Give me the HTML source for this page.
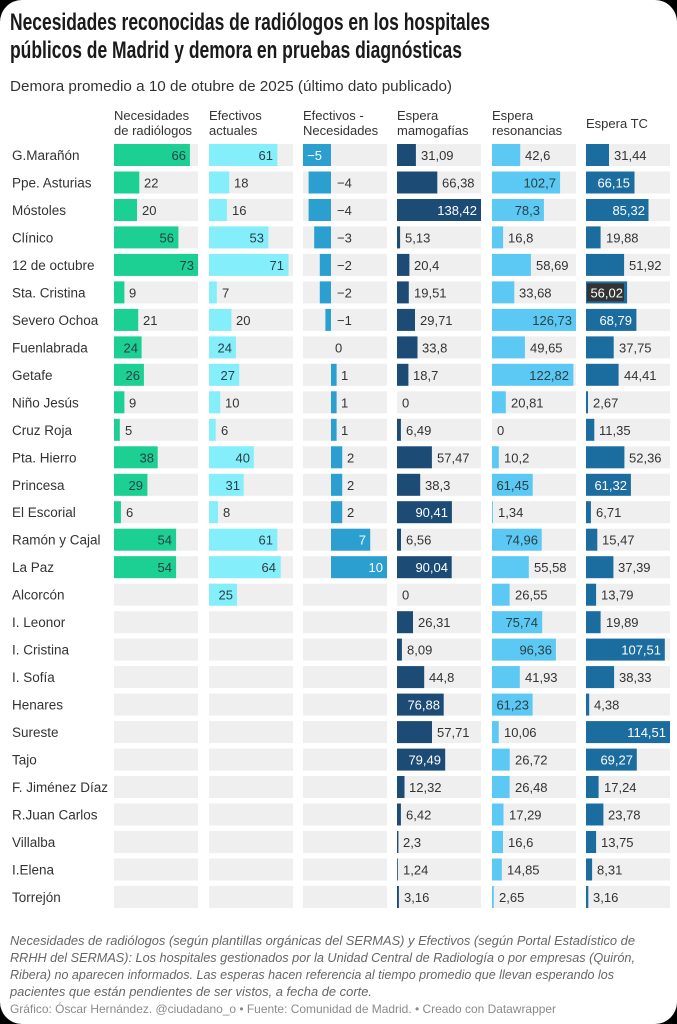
<!DOCTYPE html>
<html><head><meta charset="utf-8"><style>
html,body{margin:0;padding:0;background:#000;}
svg{display:block;font-family:"Liberation Sans",sans-serif;}
.l{font-size:13.5px;fill:#333;}
.v{font-size:13px;fill:#333;}
.w{font-size:13px;fill:#fff;text-anchor:end;}
.d{font-size:13px;fill:#2b3f45;text-anchor:end;}
.h{font-size:13px;fill:#333;}
.c1{fill:#1ccf93}.c2{fill:#84eefa}.c3{fill:#2a9fd0}.c4{fill:#1c4b76}.c5{fill:#5bc9f3}.c6{fill:#1c6d9f}
</style></head><body>
<svg width="677" height="1024" viewBox="0 0 677 1024" xmlns="http://www.w3.org/2000/svg">
<rect x="0" y="0" width="677" height="1024" rx="22" fill="#fff"/>
<defs>
<g id="tr" fill="#efefef">
<rect x="114" y="-11" width="84" height="22"/><rect x="209" y="-11" width="84" height="22"/><rect x="303" y="-11" width="84" height="22"/><rect x="397" y="-11" width="84" height="22"/><rect x="492" y="-11" width="84" height="22"/><rect x="586" y="-11" width="84" height="22"/>
</g></defs>
<text x="10" y="30" font-size="24" font-weight="bold" fill="#1a1a1a" textLength="480" lengthAdjust="spacingAndGlyphs">Necesidades reconocidas de radiólogos en los hospitales</text>
<text x="10" y="58" font-size="24" font-weight="bold" fill="#1a1a1a" textLength="452" lengthAdjust="spacingAndGlyphs">públicos de Madrid y demora en pruebas diagnósticas</text>
<text x="10" y="91" font-size="15" fill="#333" textLength="442" lengthAdjust="spacingAndGlyphs">Demora promedio a 10 de otubre de 2025 (último dato publicado)</text>
<g class="h">
<text x="114" y="120">Necesidades</text><text x="114" y="135">de radiólogos</text>
<text x="209" y="120">Efectivos</text><text x="209" y="135">actuales</text>
<text x="303" y="120">Efectivos -</text><text x="303" y="135">Necesidades</text>
<text x="397" y="120">Espera</text><text x="397" y="135">mamogafías</text>
<text x="492" y="120">Espera</text><text x="492" y="135">resonancias</text>
<text x="586" y="128">Espera TC</text>
</g>

<g transform="translate(0,155)"><use href="#tr"/><text class="l" x="12" y="5">G.Marañón</text>
<rect class="c1" x="114" y="-11" width="75.9" height="22"/><text class="d" x="186" y="5">66</text>
<rect class="c2" x="209" y="-11" width="68.3" height="22"/><text class="d" x="273" y="5">61</text>
<rect class="c3" x="303" y="-11" width="28" height="22"/><text class="w" x="322" y="5">−5</text>
<rect class="c4" x="397" y="-11" width="18.9" height="22"/><text class="v" x="421" y="5">31,09</text>
<rect class="c5" x="492" y="-11" width="28.2" height="22"/><text class="v" x="525" y="5">42,6</text>
<rect class="c6" x="586" y="-11" width="23" height="22"/><text class="v" x="614" y="5">31,44</text></g>

<g transform="translate(0,182.5)"><use href="#tr"/><text class="l" x="12" y="5">Ppe. Asturias</text>
<rect class="c1" x="114" y="-11" width="25.3" height="22"/><text class="v" x="144" y="5">22</text>
<rect class="c2" x="209" y="-11" width="20.2" height="22"/><text class="v" x="234" y="5">18</text>
<rect class="c3" x="308.6" y="-11" width="22.4" height="22"/><text class="v" x="337" y="5">−4</text>
<rect class="c4" x="397" y="-11" width="40.3" height="22"/><text class="v" x="442" y="5">66,38</text>
<rect class="c5" x="492" y="-11" width="68.1" height="22"/><text class="d" x="556" y="5">102,7</text>
<rect class="c6" x="586" y="-11" width="48.5" height="22"/><text class="w" x="630" y="5">66,15</text></g>

<g transform="translate(0,210)"><use href="#tr"/><text class="l" x="12" y="5">Móstoles</text>
<rect class="c1" x="114" y="-11" width="23" height="22"/><text class="v" x="142" y="5">20</text>
<rect class="c2" x="209" y="-11" width="17.9" height="22"/><text class="v" x="232" y="5">16</text>
<rect class="c3" x="308.6" y="-11" width="22.4" height="22"/><text class="v" x="337" y="5">−4</text>
<rect class="c4" x="397" y="-11" width="84" height="22"/><text class="w" x="477" y="5">138,42</text>
<rect class="c5" x="492" y="-11" width="51.9" height="22"/><text class="d" x="540" y="5">78,3</text>
<rect class="c6" x="586" y="-11" width="62.5" height="22"/><text class="w" x="645" y="5">85,32</text></g>

<g transform="translate(0,237.4)"><use href="#tr"/><text class="l" x="12" y="5">Clínico</text>
<rect class="c1" x="114" y="-11" width="64.4" height="22"/><text class="d" x="174" y="5">56</text>
<rect class="c2" x="209" y="-11" width="59.4" height="22"/><text class="d" x="264" y="5">53</text>
<rect class="c3" x="314.2" y="-11" width="16.8" height="22"/><text class="v" x="337" y="5">−3</text>
<rect class="c4" x="397" y="-11" width="3.1" height="22"/><text class="v" x="405" y="5">5,13</text>
<rect class="c5" x="492" y="-11" width="11.1" height="22"/><text class="v" x="508" y="5">16,8</text>
<rect class="c6" x="586" y="-11" width="14.6" height="22"/><text class="v" x="606" y="5">19,88</text></g>

<g transform="translate(0,264.9)"><use href="#tr"/><text class="l" x="12" y="5">12 de octubre</text>
<rect class="c1" x="114" y="-11" width="84" height="22"/><text class="d" x="194" y="5">73</text>
<rect class="c2" x="209" y="-11" width="79.5" height="22"/><text class="d" x="284" y="5">71</text>
<rect class="c3" x="319.8" y="-11" width="11.2" height="22"/><text class="v" x="337" y="5">−2</text>
<rect class="c4" x="397" y="-11" width="12.4" height="22"/><text class="v" x="414" y="5">20,4</text>
<rect class="c5" x="492" y="-11" width="38.9" height="22"/><text class="v" x="536" y="5">58,69</text>
<rect class="c6" x="586" y="-11" width="38.1" height="22"/><text class="v" x="629" y="5">51,92</text></g>

<g transform="translate(0,292.4)"><use href="#tr"/><text class="l" x="12" y="5">Sta. Cristina</text>
<rect class="c1" x="114" y="-11" width="10.4" height="22"/><text class="v" x="129" y="5">9</text>
<rect class="c2" x="209" y="-11" width="7.8" height="22"/><text class="v" x="222" y="5">7</text>
<rect class="c3" x="319.8" y="-11" width="11.2" height="22"/><text class="v" x="337" y="5">−2</text>
<rect class="c4" x="397" y="-11" width="11.8" height="22"/><text class="v" x="414" y="5">19,51</text>
<rect class="c5" x="492" y="-11" width="22.3" height="22"/><text class="v" x="519" y="5">33,68</text>
<rect class="c6" x="586" y="-11" width="41.1" height="22"/><rect x="587" y="-9" width="37" height="18" fill="#333"/><text class="w" x="623" y="5">56,02</text></g>

<g transform="translate(0,319.9)"><use href="#tr"/><text class="l" x="12" y="5">Severo Ochoa</text>
<rect class="c1" x="114" y="-11" width="24.2" height="22"/><text class="v" x="143" y="5">21</text>
<rect class="c2" x="209" y="-11" width="22.4" height="22"/><text class="v" x="236" y="5">20</text>
<rect class="c3" x="325.4" y="-11" width="5.6" height="22"/><text class="v" x="337" y="5">−1</text>
<rect class="c4" x="397" y="-11" width="18" height="22"/><text class="v" x="420" y="5">29,71</text>
<rect class="c5" x="492" y="-11" width="84" height="22"/><text class="d" x="572" y="5">126,73</text>
<rect class="c6" x="586" y="-11" width="50.4" height="22"/><text class="w" x="632" y="5">68,79</text></g>

<g transform="translate(0,347.4)"><use href="#tr"/><text class="l" x="12" y="5">Fuenlabrada</text>
<rect class="c1" x="114" y="-11" width="27.6" height="22"/><text class="d" x="138" y="5">24</text>
<rect class="c2" x="209" y="-11" width="26.9" height="22"/><text class="d" x="232" y="5">24</text>
<text class="v" x="335" y="5">0</text>
<rect class="c4" x="397" y="-11" width="20.5" height="22"/><text class="v" x="422" y="5">33,8</text>
<rect class="c5" x="492" y="-11" width="32.9" height="22"/><text class="v" x="530" y="5">49,65</text>
<rect class="c6" x="586" y="-11" width="27.7" height="22"/><text class="v" x="619" y="5">37,75</text></g>

<g transform="translate(0,374.8)"><use href="#tr"/><text class="l" x="12" y="5">Getafe</text>
<rect class="c1" x="114" y="-11" width="29.9" height="22"/><text class="d" x="140" y="5">26</text>
<rect class="c2" x="209" y="-11" width="30.2" height="22"/><text class="d" x="235" y="5">27</text>
<rect class="c3" x="331" y="-11" width="5.6" height="22"/><text class="v" x="341" y="5">1</text>
<rect class="c4" x="397" y="-11" width="11.4" height="22"/><text class="v" x="413" y="5">18,7</text>
<rect class="c5" x="492" y="-11" width="81.4" height="22"/><text class="d" x="569" y="5">122,82</text>
<rect class="c6" x="586" y="-11" width="32.6" height="22"/><text class="v" x="624" y="5">44,41</text></g>

<g transform="translate(0,402.3)"><use href="#tr"/><text class="l" x="12" y="5">Niño Jesús</text>
<rect class="c1" x="114" y="-11" width="10.4" height="22"/><text class="v" x="129" y="5">9</text>
<rect class="c2" x="209" y="-11" width="11.2" height="22"/><text class="v" x="225" y="5">10</text>
<rect class="c3" x="331" y="-11" width="5.6" height="22"/><text class="v" x="341" y="5">1</text>
<text class="v" x="402" y="5">0</text>
<rect class="c5" x="492" y="-11" width="13.8" height="22"/><text class="v" x="511" y="5">20,81</text>
<rect class="c6" x="586" y="-11" width="2" height="22"/><text class="v" x="593" y="5">2,67</text></g>

<g transform="translate(0,429.8)"><use href="#tr"/><text class="l" x="12" y="5">Cruz Roja</text>
<rect class="c1" x="114" y="-11" width="5.8" height="22"/><text class="v" x="125" y="5">5</text>
<rect class="c2" x="209" y="-11" width="6.7" height="22"/><text class="v" x="221" y="5">6</text>
<rect class="c3" x="331" y="-11" width="5.6" height="22"/><text class="v" x="341" y="5">1</text>
<rect class="c4" x="397" y="-11" width="3.9" height="22"/><text class="v" x="406" y="5">6,49</text>
<text class="v" x="497" y="5">0</text>
<rect class="c6" x="586" y="-11" width="8.3" height="22"/><text class="v" x="599" y="5">11,35</text></g>

<g transform="translate(0,457.3)"><use href="#tr"/><text class="l" x="12" y="5">Pta. Hierro</text>
<rect class="c1" x="114" y="-11" width="43.7" height="22"/><text class="d" x="154" y="5">38</text>
<rect class="c2" x="209" y="-11" width="44.8" height="22"/><text class="d" x="250" y="5">40</text>
<rect class="c3" x="331" y="-11" width="11.2" height="22"/><text class="v" x="347" y="5">2</text>
<rect class="c4" x="397" y="-11" width="34.9" height="22"/><text class="v" x="437" y="5">57,47</text>
<rect class="c5" x="492" y="-11" width="6.8" height="22"/><text class="v" x="504" y="5">10,2</text>
<rect class="c6" x="586" y="-11" width="38.4" height="22"/><text class="v" x="629" y="5">52,36</text></g>

<g transform="translate(0,484.8)"><use href="#tr"/><text class="l" x="12" y="5">Princesa</text>
<rect class="c1" x="114" y="-11" width="33.4" height="22"/><text class="d" x="143" y="5">29</text>
<rect class="c2" x="209" y="-11" width="34.7" height="22"/><text class="d" x="240" y="5">31</text>
<rect class="c3" x="331" y="-11" width="11.2" height="22"/><text class="v" x="347" y="5">2</text>
<rect class="c4" x="397" y="-11" width="23.2" height="22"/><text class="v" x="425" y="5">38,3</text>
<rect class="c5" x="492" y="-11" width="40.7" height="22"/><text class="d" x="529" y="5">61,45</text>
<rect class="c6" x="586" y="-11" width="44.9" height="22"/><text class="w" x="627" y="5">61,32</text></g>

<g transform="translate(0,512.2)"><use href="#tr"/><text class="l" x="12" y="5">El Escorial</text>
<rect class="c1" x="114" y="-11" width="6.9" height="22"/><text class="v" x="126" y="5">6</text>
<rect class="c2" x="209" y="-11" width="9" height="22"/><text class="v" x="223" y="5">8</text>
<rect class="c3" x="331" y="-11" width="11.2" height="22"/><text class="v" x="347" y="5">2</text>
<rect class="c4" x="397" y="-11" width="54.9" height="22"/><text class="w" x="448" y="5">90,41</text>
<rect class="c5" x="492" y="-11" width="0.9" height="22"/><text class="v" x="498" y="5">1,34</text>
<rect class="c6" x="586" y="-11" width="4.9" height="22"/><text class="v" x="596" y="5">6,71</text></g>

<g transform="translate(0,539.7)"><use href="#tr"/><text class="l" x="12" y="5">Ramón y Cajal</text>
<rect class="c1" x="114" y="-11" width="62.1" height="22"/><text class="d" x="172" y="5">54</text>
<rect class="c2" x="209" y="-11" width="68.3" height="22"/><text class="d" x="273" y="5">61</text>
<rect class="c3" x="331" y="-11" width="39.2" height="22"/><text class="w" x="366" y="5">7</text>
<rect class="c4" x="397" y="-11" width="4" height="22"/><text class="v" x="406" y="5">6,56</text>
<rect class="c5" x="492" y="-11" width="49.7" height="22"/><text class="d" x="538" y="5">74,96</text>
<rect class="c6" x="586" y="-11" width="11.3" height="22"/><text class="v" x="602" y="5">15,47</text></g>

<g transform="translate(0,567.2)"><use href="#tr"/><text class="l" x="12" y="5">La Paz</text>
<rect class="c1" x="114" y="-11" width="62.1" height="22"/><text class="d" x="172" y="5">54</text>
<rect class="c2" x="209" y="-11" width="71.7" height="22"/><text class="d" x="276" y="5">64</text>
<rect class="c3" x="331" y="-11" width="56" height="22"/><text class="w" x="383" y="5">10</text>
<rect class="c4" x="397" y="-11" width="54.7" height="22"/><text class="w" x="448" y="5">90,04</text>
<rect class="c5" x="492" y="-11" width="36.8" height="22"/><text class="v" x="534" y="5">55,58</text>
<rect class="c6" x="586" y="-11" width="27.4" height="22"/><text class="v" x="618" y="5">37,39</text></g>

<g transform="translate(0,594.7)"><use href="#tr"/><text class="l" x="12" y="5">Alcorcón</text>
<rect class="c2" x="209" y="-11" width="28" height="22"/><text class="d" x="233" y="5">25</text>
<text class="v" x="402" y="5">0</text>
<rect class="c5" x="492" y="-11" width="17.6" height="22"/><text class="v" x="515" y="5">26,55</text>
<rect class="c6" x="586" y="-11" width="10.1" height="22"/><text class="v" x="601" y="5">13,79</text></g>

<g transform="translate(0,622.2)"><use href="#tr"/><text class="l" x="12" y="5">I. Leonor</text>
<rect class="c4" x="397" y="-11" width="16" height="22"/><text class="v" x="418" y="5">26,31</text>
<rect class="c5" x="492" y="-11" width="50.2" height="22"/><text class="d" x="538" y="5">75,74</text>
<rect class="c6" x="586" y="-11" width="14.6" height="22"/><text class="v" x="606" y="5">19,89</text></g>

<g transform="translate(0,649.6)"><use href="#tr"/><text class="l" x="12" y="5">I. Cristina</text>
<rect class="c4" x="397" y="-11" width="4.9" height="22"/><text class="v" x="407" y="5">8,09</text>
<rect class="c5" x="492" y="-11" width="63.9" height="22"/><text class="d" x="552" y="5">96,36</text>
<rect class="c6" x="586" y="-11" width="78.8" height="22"/><text class="w" x="661" y="5">107,51</text></g>

<g transform="translate(0,677.1)"><use href="#tr"/><text class="l" x="12" y="5">I. Sofía</text>
<rect class="c4" x="397" y="-11" width="27.2" height="22"/><text class="v" x="429" y="5">44,8</text>
<rect class="c5" x="492" y="-11" width="27.8" height="22"/><text class="v" x="525" y="5">41,93</text>
<rect class="c6" x="586" y="-11" width="28.1" height="22"/><text class="v" x="619" y="5">38,33</text></g>

<g transform="translate(0,704.6)"><use href="#tr"/><text class="l" x="12" y="5">Henares</text>
<rect class="c4" x="397" y="-11" width="46.7" height="22"/><text class="w" x="440" y="5">76,88</text>
<rect class="c5" x="492" y="-11" width="40.6" height="22"/><text class="d" x="529" y="5">61,23</text>
<rect class="c6" x="586" y="-11" width="3.2" height="22"/><text class="v" x="594" y="5">4,38</text></g>

<g transform="translate(0,732.1)"><use href="#tr"/><text class="l" x="12" y="5">Sureste</text>
<rect class="c4" x="397" y="-11" width="35" height="22"/><text class="v" x="437" y="5">57,71</text>
<rect class="c5" x="492" y="-11" width="6.7" height="22"/><text class="v" x="504" y="5">10,06</text>
<rect class="c6" x="586" y="-11" width="84" height="22"/><text class="w" x="666" y="5">114,51</text></g>

<g transform="translate(0,759.6)"><use href="#tr"/><text class="l" x="12" y="5">Tajo</text>
<rect class="c4" x="397" y="-11" width="48.2" height="22"/><text class="w" x="441" y="5">79,49</text>
<rect class="c5" x="492" y="-11" width="17.7" height="22"/><text class="v" x="515" y="5">26,72</text>
<rect class="c6" x="586" y="-11" width="50.8" height="22"/><text class="w" x="633" y="5">69,27</text></g>

<g transform="translate(0,787)"><use href="#tr"/><text class="l" x="12" y="5">F. Jiménez Díaz</text>
<rect class="c4" x="397" y="-11" width="7.5" height="22"/><text class="v" x="409" y="5">12,32</text>
<rect class="c5" x="492" y="-11" width="17.6" height="22"/><text class="v" x="515" y="5">26,48</text>
<rect class="c6" x="586" y="-11" width="12.6" height="22"/><text class="v" x="604" y="5">17,24</text></g>

<g transform="translate(0,814.5)"><use href="#tr"/><text class="l" x="12" y="5">R.Juan Carlos</text>
<rect class="c4" x="397" y="-11" width="3.9" height="22"/><text class="v" x="406" y="5">6,42</text>
<rect class="c5" x="492" y="-11" width="11.5" height="22"/><text class="v" x="509" y="5">17,29</text>
<rect class="c6" x="586" y="-11" width="17.4" height="22"/><text class="v" x="608" y="5">23,78</text></g>

<g transform="translate(0,842)"><use href="#tr"/><text class="l" x="12" y="5">Villalba</text>
<rect class="c4" x="397" y="-11" width="1.4" height="22"/><text class="v" x="403" y="5">2,3</text>
<rect class="c5" x="492" y="-11" width="11" height="22"/><text class="v" x="508" y="5">16,6</text>
<rect class="c6" x="586" y="-11" width="10.1" height="22"/><text class="v" x="601" y="5">13,75</text></g>

<g transform="translate(0,869.5)"><use href="#tr"/><text class="l" x="12" y="5">I.Elena</text>
<rect class="c4" x="397" y="-11" width="0.8" height="22"/><text class="v" x="403" y="5">1,24</text>
<rect class="c5" x="492" y="-11" width="9.8" height="22"/><text class="v" x="507" y="5">14,85</text>
<rect class="c6" x="586" y="-11" width="6.1" height="22"/><text class="v" x="597" y="5">8,31</text></g>

<g transform="translate(0,897)"><use href="#tr"/><text class="l" x="12" y="5">Torrejón</text>
<rect class="c4" x="397" y="-11" width="1.9" height="22"/><text class="v" x="404" y="5">3,16</text>
<rect class="c5" x="492" y="-11" width="1.8" height="22"/><text class="v" x="499" y="5">2,65</text>
<rect class="c6" x="586" y="-11" width="2.3" height="22"/><text class="v" x="593" y="5">3,16</text></g>

<g font-size="13" font-style="italic" fill="#666" lengthAdjust="spacingAndGlyphs">
<text x="10" y="945" textLength="625" lengthAdjust="spacingAndGlyphs">Necesidades de radiólogos (según plantillas orgánicas del SERMAS) y Efectivos (según Portal Estadístico de</text>
<text x="10" y="962" textLength="625" lengthAdjust="spacingAndGlyphs">RRHH del SERMAS): Los hospitales gestionados por la Unidad Central de Radiología o por empresas (Quirón,</text>
<text x="10" y="979" textLength="604" lengthAdjust="spacingAndGlyphs">Ribera) no aparecen informados. Las esperas hacen referencia al tiempo promedio que llevan esperando los</text>
<text x="10" y="996" textLength="362" lengthAdjust="spacingAndGlyphs">pacientes que están pendientes de ser vistos, a fecha de corte.</text>
</g>
<text x="10" y="1013" font-size="12" fill="#8a8a8a" textLength="546" lengthAdjust="spacingAndGlyphs">Gráfico: Óscar Hernández. @ciudadano_o • Fuente: Comunidad de Madrid.  • Creado con Datawrapper</text>
</svg>
</body></html>
